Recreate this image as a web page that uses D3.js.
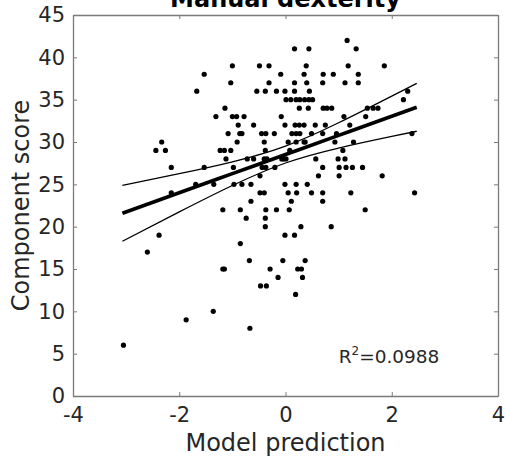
<!DOCTYPE html>
<html>
<head>
<meta charset="utf-8">
<script src="https://cdn.jsdelivr.net/npm/d3@7/dist/d3.min.js"></script>
<style>
  body { margin: 0; background: #fff; }
  text { font-family: "DejaVu Sans", sans-serif; }
</style>
</head>
<body>
<div class="scatter"></div>
<script>
// points, one row per score level
var modelPrediction = [
    1.16,
    0.17, 0.44, 1.33,
    -1.00, -0.49, -0.31, 0.39, 1.18, 1.86,
    -1.53, -0.09, 0.35, 0.71, 0.90, 1.37,
    -1.03, -0.31, 0.17, 0.40, 0.70, 1.12, 1.37,
    -1.67, -0.54, -0.38, -0.17, -0.01, 0.17, 0.45, 2.30,
    0.01, 0.10, 0.20, 0.27, 0.36, 0.44, 0.51, 2.22,
    -1.14, 0.26, 0.43, 0.71, 0.78, 0.87, 1.54, 1.65, 1.74,
    -1.31, -1.00, -0.92, -0.78, -0.08, 1.10, 1.51,
    -0.89, -0.60, -0.01, 0.18, 0.26, 0.35, 0.56, 0.75, 1.21,
    -1.08, -0.86, -0.82, -0.45, -0.37, -0.21, 0.12, 0.20, 0.27, 0.49, 0.70, 0.96, 2.38,
    -2.33, -0.91, -0.40, 0.05, 0.20, 0.35, 0.37, 0.93, 1.28,
    -2.44, -2.26, -1.23, -1.15, -1.03, -0.38, 0.08, 1.08,
    -1.12, -0.72, -0.60, -0.40, -0.35, -0.07, -0.04, 0.01, 0.57, 0.99, 1.12,
    -2.15, -1.53, -0.98, -0.44, -0.37, -0.20, 0.70, 1.01, 1.14, 1.26, 1.45,
    -0.48, 0.62, 1.01, 1.82,
    -1.69, -1.35, -0.97, -0.82, -0.65, -0.01, 0.20, 0.41,
    -2.15, -0.48, -0.40, 0.05, 0.21, 0.49, 0.70, 1.23, 2.43,
    -0.65, 0.11, 0.70,
    -1.18, -0.85, -0.37, -0.17, 0.07, 1.50,
    -0.74, -0.38,
    -0.38, 0.29, 0.86,
    -2.38, -0.01, 0.17,
    -0.85,
    -2.60,
    -0.68, -0.05, 0.37,
    -1.18, -1.15, -0.29, 0.23, 0.30,
    -0.14, 0.32,
    -0.47, -0.36,
    0.19,
    -1.36,
    -1.87,
    -0.67,
    -3.05
];
var componentScore = [
    42,
    41, 41, 41,
    39, 39, 39, 39, 39, 39,
    38, 38, 38, 38, 38, 38,
    37, 37, 37, 37, 37, 37, 37,
    36, 36, 36, 36, 36, 36, 36, 36,
    35, 35, 35, 35, 35, 35, 35, 35,
    34, 34, 34, 34, 34, 34, 34, 34, 34,
    33, 33, 33, 33, 33, 33, 33,
    32, 32, 32, 32, 32, 32, 32, 32, 32,
    31, 31, 31, 31, 31, 31, 31, 31, 31, 31, 31, 31, 31,
    30, 30, 30, 30, 30, 30, 30, 30, 30,
    29, 29, 29, 29, 29, 29, 29, 29,
    28, 28, 28, 28, 28, 28, 28, 28, 28, 28, 28,
    27, 27, 27, 27, 27, 27, 27, 27, 27, 27, 27,
    26, 26, 26, 26,
    25, 25, 25, 25, 25, 25, 25, 25,
    24, 24, 24, 24, 24, 24, 24, 24, 24,
    23, 23, 23,
    22, 22, 22, 22, 22, 22,
    21, 21,
    20, 20, 20,
    19, 19, 19,
    18,
    17,
    16, 16, 16,
    15, 15, 15, 15, 15,
    14, 14,
    13, 13,
    12,
    10,
    9,
    8,
    6
];

// fitted line and its confidence band, read at a few x positions
var fitX = [-3.07, -2, -1, 0, 1, 2, 2.47];
var fitY = [21.58, 24.0, 26.26, 28.52, 30.78, 33.04, 34.1];
var upperY = [24.88, 26.26, 27.66, 29.52, 32.27, 35.42, 36.93];
var lowerY = [18.28, 21.74, 24.86, 27.52, 29.29, 30.66, 31.27];

var xTicks = [-4, -2, 0, 2, 4];
var yTicks = [0, 5, 10, 15, 20, 25, 30, 35, 40, 45];
var rSquared = "0.0988";

var svgWidth = 506;
var svgHeight = 459;

var margin = {
    top: 15,
    right: 8,
    bottom: 63,
    left: 73
};

var chartWidth = svgWidth - margin.left - margin.right;
var chartHeight = svgHeight - margin.top - margin.bottom;

var svg = d3.select(".scatter")
    .append("svg")
    .attr("width", svgWidth)
    .attr("height", svgHeight);

var chartGroup = svg.append("g")
    .attr("transform", `translate(${margin.left}, ${margin.top})`);

var xScale = d3.scaleLinear()
    .domain([-4, 4])
    .range([0, chartWidth]);

var yScale = d3.scaleLinear()
    .domain([0, 45])
    .range([chartHeight, 0]);

var axisColor = "#7a7a7a";
var textColor = "#262626";
var tickLen = 4;
// plain hyphen for negatives, like the original
var plain = d => String(d);

// box with inward ticks on all four sides
function styleAxis(g) {
    g.select(".domain").attr("stroke", axisColor).attr("stroke-width", 1.3);
    g.selectAll(".tick line").attr("stroke", axisColor).attr("stroke-width", 1);
    g.selectAll(".tick text")
        .attr("fill", textColor)
        .attr("font-size", 21);
}

chartGroup.append("g")
    .attr("transform", `translate(0, ${chartHeight})`)
    .call(d3.axisBottom(xScale).tickValues(xTicks).tickFormat(plain).tickSize(-tickLen).tickPadding(11).tickSizeOuter(0))
    .call(styleAxis);

chartGroup.append("g")
    .call(d3.axisLeft(yScale).tickValues(yTicks).tickFormat(plain).tickSize(-tickLen).tickPadding(8).tickSizeOuter(0))
    .call(styleAxis);

chartGroup.append("g")
    .call(d3.axisTop(xScale).tickValues(xTicks).tickSize(-tickLen).tickFormat("").tickSizeOuter(0))
    .call(styleAxis);

chartGroup.append("g")
    .attr("transform", `translate(${chartWidth}, 0)`)
    .call(d3.axisRight(yScale).tickValues(yTicks).tickSize(-tickLen).tickFormat("").tickSizeOuter(0))
    .call(styleAxis);

var points = modelPrediction.map(function(x, i) {
    return { x: x, y: componentScore[i] };
});

chartGroup.selectAll("circle")
    .data(points)
    .enter()
    .append("circle")
    .attr("cx", d => xScale(d.x))
    .attr("cy", d => yScale(d.y))
    .attr("r", 2.6)
    .attr("fill", "black");

var bandLine = d3.line()
    .x(d => xScale(d[0]))
    .y(d => yScale(d[1]))
    .curve(d3.curveNatural);

chartGroup.append("path")
    .attr("d", bandLine(d3.zip(fitX, upperY)))
    .attr("fill", "none")
    .attr("stroke", "black")
    .attr("stroke-width", 1.3);

chartGroup.append("path")
    .attr("d", bandLine(d3.zip(fitX, lowerY)))
    .attr("fill", "none")
    .attr("stroke", "black")
    .attr("stroke-width", 1.3);

chartGroup.append("path")
    .attr("d", bandLine(d3.zip(fitX, fitY)))
    .attr("fill", "none")
    .attr("stroke", "black")
    .attr("stroke-width", 3.6);

// R^2 annotation
var rText = chartGroup.append("text")
    .attr("x", xScale(1))
    .attr("y", yScale(3.9))
    .attr("font-size", 18.5)
    .attr("fill", textColor);
rText.append("tspan").text("R");
rText.append("tspan").attr("font-size", 12).attr("dy", -8).text("2");
rText.append("tspan").attr("dy", 8).text("=" + rSquared);

svg.append("text")
    .attr("x", margin.left + chartWidth / 2)
    .attr("y", 7)
    .attr("text-anchor", "middle")
    .attr("font-size", 24)
    .attr("font-weight", "bold")
    .attr("fill", "black")
    .text("Manual dexterity");

chartGroup.append("text")
    .attr("transform", `translate(${chartWidth / 2}, ${chartHeight + 55})`)
    .attr("text-anchor", "middle")
    .attr("font-size", 24)
    .attr("fill", textColor)
    .text("Model prediction");

chartGroup.append("text")
    .attr("transform", "rotate(-90)")
    .attr("x", -chartHeight / 2)
    .attr("y", -margin.left + 29)
    .attr("text-anchor", "middle")
    .attr("font-size", 24)
    .attr("fill", textColor)
    .text("Component score");
</script>
</body>
</html>
